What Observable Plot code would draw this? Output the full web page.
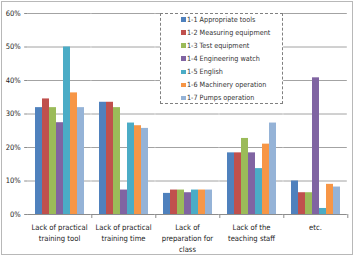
<!DOCTYPE html>
<html>
<head>
<meta charset="utf-8">
<script src="https://cdn.jsdelivr.net/npm/d3@7"></script>
<script src="https://cdn.jsdelivr.net/npm/@observablehq/plot@0.6"></script>
<style>
  html, body { margin: 0; padding: 0; background: #fff; }
  #chart { position: relative; width: 354px; height: 256px; overflow: hidden;
    font-family: "DejaVu Sans Condensed", sans-serif; }
  #chart svg { position: absolute; left: 0; top: 0; }
  .outline { position: absolute; left: 1px; top: 1px; width: 350px; height: 252px;
    border: 1px solid #b8b8b8; pointer-events: none; }
  .key { position: absolute; left: 160px; top: 13px; width: 123px; height: 91px;
    background: #fff; border: 1px dashed #808080; box-sizing: border-box;
    padding: 0 0 0 20px; font-size: 7.2px; color: #333; }
  .key .rows { margin-top: -1.5px; }
  .key .row { height: 13.17px; line-height: 13.17px; white-space: nowrap; }
  .key .sw { display: inline-block; width: 4.5px; height: 4.5px; margin-right: 1.5px; vertical-align: 0; }
</style>
</head>
<body>
<div id="chart"></div>
<script>
// Reasons for training shortfalls, share of responses per course
const categories = [
  "Lack of practical\ntraining tool",
  "Lack of practical\ntraining time",
  "Lack of\npreparation for\nclass",
  "Lack of the\nteaching staff",
  "etc."
];
const series = [
  "1-1 Appropriate tools",
  "1-2 Measuring equipment",
  "1-3 Test equipment",
  "1-4 Engineering watch",
  "1-5 English",
  "1-6 Machinery operation",
  "1-7 Pumps operation"
];
const colors = ["#4F81BD", "#C0504D", "#9BBB59", "#8064A2", "#4BACC6", "#F79646", "#95B3D7"];

// one value per category for each series (fractions)
const s11 = [0.319, 0.335, 0.063, 0.184, 0.100];
const s12 = [0.345, 0.335, 0.073, 0.184, 0.065];
const s13 = [0.319, 0.319, 0.073, 0.227, 0.065];
const s14 = [0.274, 0.073, 0.065, 0.184, 0.408];
const s15 = [0.500, 0.273, 0.073, 0.137, 0.018];
const s16 = [0.363, 0.265, 0.073, 0.210, 0.090];
const s17 = [0.319, 0.257, 0.073, 0.273, 0.082];
const values = [s11, s12, s13, s14, s15, s16, s17];

const yTicks = [0, 0.1, 0.2, 0.3, 0.4, 0.5, 0.6];

const rows = [];
series.forEach((s, j) => categories.forEach((c, i) => rows.push({cat: c, series: s, value: values[j][i]})));

const width = 354, marginLeft = 26, marginRight = 5;
const step = (width - marginLeft - marginRight) / categories.length;
const padIn = 0.18;
const half = step * padIn / 2; // half of the gap between neighbouring groups

const plot = Plot.plot({
  width, height: 256,
  marginLeft, marginRight, marginTop: 13, marginBottom: 42,
  style: {fontFamily: '"DejaVu Sans Condensed", sans-serif', color: "#222", background: "transparent"},
  fx: {domain: categories, paddingInner: padIn, paddingOuter: padIn / 2, label: null, axis: null},
  x: {domain: series, padding: 0, axis: null},
  y: {domain: [0, 0.6], label: null, axis: null},
  color: {domain: series, range: colors},
  marks: [
    Plot.ruleY(yTicks.slice(1), {stroke: "#8c8c8c", strokeWidth: 0.8, insetLeft: -half, insetRight: -half}),
    Plot.barY(rows, {fx: "cat", x: "series", y: "value", fill: "series"}),
    Plot.ruleY([0], {stroke: "#8c8c8c", insetLeft: -half, insetRight: -half}),
    Plot.axisY({ticks: yTicks, tickFormat: d => Math.round(d * 100) + "%", tickSize: 3, tickPadding: 4,
      dx: -half, fontSize: 7.5, stroke: "#8c8c8c", line: true, label: null}),
    Plot.axisFx({anchor: "bottom", tickSize: 4, dx: step / 2, text: null, stroke: "#8c8c8c", label: null}),
    Plot.axisFx({anchor: "bottom", tickSize: 0, tickPadding: 7, fontSize: 7.6, lineHeight: 1.5, label: null})
  ]
});

const chart = document.getElementById("chart");
chart.appendChild(plot);

// legend box
const key = document.createElement("div");
key.className = "key";
const list = document.createElement("div");
list.className = "rows";
series.forEach((s, j) => {
  const row = document.createElement("div");
  row.className = "row";
  const sw = document.createElement("span");
  sw.className = "sw";
  sw.style.background = colors[j];
  row.appendChild(sw);
  row.appendChild(document.createTextNode(s));
  list.appendChild(row);
});
key.appendChild(list);
chart.appendChild(key);

const outline = document.createElement("div");
outline.className = "outline";
chart.appendChild(outline);
</script>
</body>
</html>
